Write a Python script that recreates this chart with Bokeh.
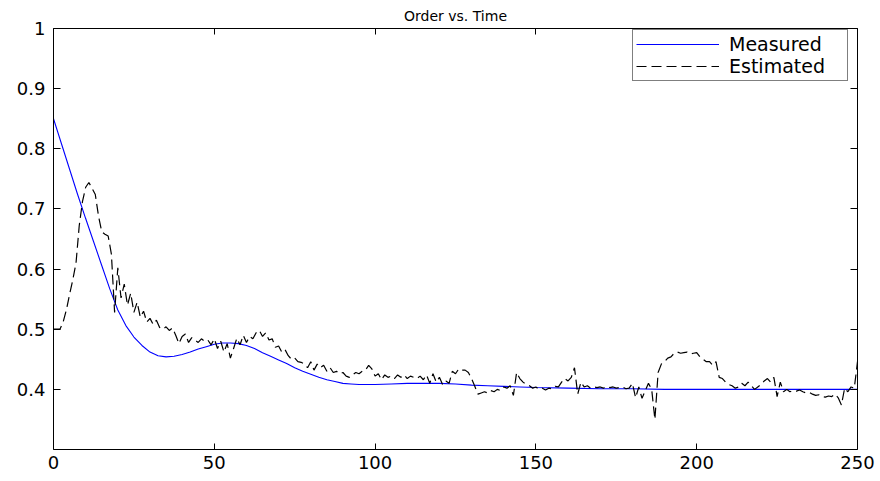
from bokeh.plotting import figure
from bokeh.models import Range1d, LinearAxis, FixedTicker
from bokeh.embed import file_html
from bokeh.resources import INLINE

# ---------------- data ----------------
measured_t = [0, 2.5, 5, 7.5, 10, 12.5, 15, 17.5, 20, 22.5, 25, 27.5, 30, 32.5, 35,
              37.5, 40, 42.5, 45, 47.5, 50, 52.5, 55, 57.5, 60, 62.5, 65, 67.5, 70,
              72.5, 75, 77.5, 80, 82.5, 85, 87.5, 90, 92.5, 95, 97.5, 100, 105, 110,
              115, 120, 125, 130, 135, 140, 145, 150, 160, 170, 180, 190, 200, 250]
measured_v = [0.850, 0.808, 0.766, 0.724, 0.684, 0.645, 0.606, 0.567, 0.532, 0.506,
              0.487, 0.473, 0.462, 0.456, 0.454, 0.455, 0.458, 0.462, 0.467, 0.471,
              0.475, 0.477, 0.477, 0.476, 0.473, 0.468, 0.461, 0.455, 0.449, 0.443,
              0.436, 0.430, 0.425, 0.420, 0.416, 0.413, 0.410, 0.409, 0.408, 0.408,
              0.408, 0.409, 0.410, 0.410, 0.410, 0.409, 0.407, 0.406, 0.405, 0.404,
              0.403, 0.402, 0.401, 0.401, 0.400, 0.400, 0.400]

estimated_t = list(range(251))
estimated_v = [
    0.500, 0.500, 0.500, 0.512, 0.532, 0.558, 0.582, 0.610, 0.672, 0.712,   # 0-9
    0.736, 0.744, 0.734, 0.724, 0.688, 0.662, 0.658, 0.655, 0.625, 0.528,   # 10-19
    0.602, 0.552, 0.575, 0.540, 0.560, 0.528, 0.545, 0.520, 0.530, 0.512,   # 20-29
    0.518, 0.508, 0.515, 0.503, 0.500, 0.504, 0.498, 0.502, 0.490, 0.476,   # 30-39
    0.488, 0.492, 0.478, 0.486, 0.482, 0.478, 0.484, 0.480, 0.482, 0.474,   # 40-49
    0.484, 0.468, 0.480, 0.462, 0.476, 0.452, 0.468, 0.485, 0.474, 0.490,   # 50-59
    0.478, 0.488, 0.484, 0.494, 0.498, 0.488, 0.494, 0.482, 0.484, 0.470,   # 60-69
    0.472, 0.462, 0.466, 0.456, 0.450, 0.452, 0.446, 0.445, 0.442, 0.436,   # 70-79
    0.446, 0.432, 0.442, 0.436, 0.440, 0.430, 0.436, 0.428, 0.430, 0.426,   # 80-89
    0.428, 0.422, 0.420, 0.424, 0.428, 0.426, 0.430, 0.432, 0.440, 0.434,   # 90-99
    0.422, 0.426, 0.416, 0.424, 0.420, 0.422, 0.418, 0.424, 0.420, 0.424,   # 100-109
    0.418, 0.422, 0.420, 0.418, 0.422, 0.416, 0.424, 0.410, 0.426, 0.412,   # 110-119
    0.420, 0.408, 0.414, 0.410, 0.430, 0.426, 0.434, 0.432, 0.432, 0.428,   # 120-129
    0.418, 0.405, 0.392, 0.394, 0.396, 0.394, 0.398, 0.396, 0.400, 0.398,   # 130-139
    0.404, 0.402, 0.406, 0.390, 0.428, 0.418, 0.412, 0.408, 0.406, 0.402,   # 140-149
    0.404, 0.400, 0.402, 0.399, 0.402, 0.401, 0.405, 0.404, 0.412, 0.418,   # 150-159
    0.414, 0.420, 0.436, 0.392, 0.412, 0.404, 0.406, 0.402, 0.404, 0.403,   # 160-169
    0.404, 0.402, 0.405, 0.403, 0.404, 0.402, 0.403, 0.404, 0.401, 0.402,   # 170-179
    0.410, 0.386, 0.404, 0.385, 0.398, 0.410, 0.400, 0.350, 0.428, 0.442,   # 180-189
    0.446, 0.452, 0.454, 0.460, 0.462, 0.460, 0.461, 0.462, 0.459, 0.460,   # 190-199
    0.461, 0.454, 0.450, 0.446, 0.446, 0.440, 0.446, 0.420, 0.418, 0.412,   # 200-209
    0.408, 0.406, 0.402, 0.404, 0.410, 0.406, 0.412, 0.406, 0.400, 0.404,   # 210-219
    0.408, 0.414, 0.418, 0.412, 0.420, 0.388, 0.412, 0.396, 0.400, 0.396,   # 220-229
    0.398, 0.397, 0.399, 0.396, 0.394, 0.395, 0.392, 0.390, 0.391, 0.388,   # 230-239
    0.387, 0.389, 0.388, 0.392, 0.386, 0.374, 0.402, 0.396, 0.404, 0.402,   # 240-249
    0.446,                                                                  # 250
]

x_ticks = [0, 50, 100, 150, 200, 250]
x_tick_labels = ["0", "50", "100", "150", "200", "250"]
y_ticks = [0.4, 0.5, 0.6, 0.7, 0.8, 0.9, 1.0]
y_tick_labels = ["0.4", "0.5", "0.6", "0.7", "0.8", "0.9", "1"]

title_text = "Order vs. Time"
series_names = ["Measured", "Estimated"]

FONT = "DejaVu Sans"

# ---------------- figure ----------------
p = figure(width=876, height=478,
           x_range=Range1d(0, 250), y_range=Range1d(0.3, 1.0),
           output_backend="svg", toolbar_location=None,
           title=title_text,
           min_border_left=53, min_border_right=19,
           min_border_top=27, min_border_bottom=29)
p.xgrid.visible = False
p.ygrid.visible = False
p.outline_line_color = None
p.background_fill_color = "white"
p.border_fill_color = "white"

p.title.align = "center"
p.title.text_font = FONT
p.title.text_font_size = "14px"
p.title.text_font_style = "normal"
p.title.text_color = "black"
p.title.standoff = 10
p.title.offset = 0

def style_axis(ax, ticks, labels, tick_len, show_labels, standoff):
    ax.ticker = FixedTicker(ticks=ticks)
    ax.major_label_overrides = {t: l for t, l in zip(ticks, labels)}
    ax.axis_line_color = "black"
    ax.axis_line_width = 1
    ax.major_tick_line_color = "black"
    ax.major_tick_in = tick_len
    ax.major_tick_out = 0
    ax.minor_tick_line_color = None
    ax.major_label_standoff = standoff
    if show_labels:
        ax.major_label_text_font = FONT
        ax.major_label_text_font_size = "18px"
        ax.major_label_text_color = "black"
    else:
        ax.major_label_text_font_size = "0px"
        ax.major_label_text_color = None

style_axis(p.xaxis[0], x_ticks, x_tick_labels, 6, True, 6)
style_axis(p.yaxis[0], y_ticks, y_tick_labels, 7, True, 8)

top_axis = LinearAxis()
style_axis(top_axis, x_ticks, x_tick_labels, 6, False, 0)
p.add_layout(top_axis, "above")
right_axis = LinearAxis()
style_axis(right_axis, y_ticks, y_tick_labels, 7, False, 0)
p.add_layout(right_axis, "right")

p.line(measured_t, measured_v, line_color="#0000ff", line_width=1.1,
       legend_label=series_names[0])
p.line(estimated_t, estimated_v, line_color="black", line_width=1.2,
       line_dash="10 5", legend_label=series_names[1])

leg = p.legend[0]
leg.location = (579, 368)
leg.border_line_color = "black"
leg.border_line_width = 1
leg.background_fill_color = "white"
leg.background_fill_alpha = 1
leg.label_text_font = FONT
leg.label_text_font_size = "19px"
leg.label_text_color = "black"
leg.label_height = 20
leg.glyph_height = 20
leg.glyph_width = 83
leg.label_standoff = 10
leg.label_width = 115
leg.padding = 3
leg.spacing = 0
leg.margin = 0

open("out.html", "w").write(file_html(p, INLINE))
